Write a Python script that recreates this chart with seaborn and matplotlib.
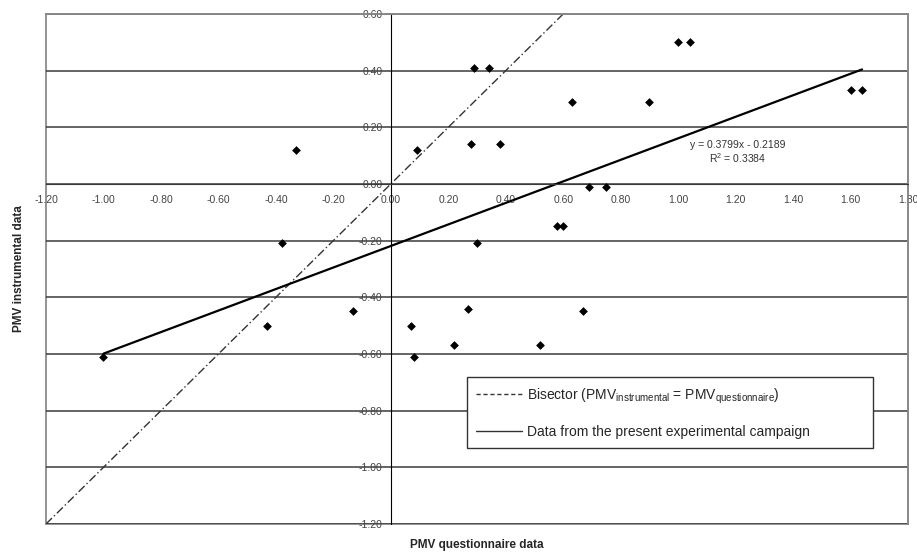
import numpy as np
import pandas as pd
import matplotlib
matplotlib.use('Agg')
import matplotlib.pyplot as plt
from matplotlib.lines import Line2D
import seaborn as sns

# PMV questionnaire (x) vs PMV instrumental (y)
pmv_quest = [-1.00, -0.43, -0.38, -0.33, -0.13, 0.07, 0.08, 0.09, 0.22, 0.27,
             0.28, 0.29, 0.30, 0.34, 0.38, 0.52, 0.58, 0.60, 0.63, 0.67,
             0.69, 0.75, 0.90, 1.00, 1.04, 1.60, 1.64]
pmv_instr = [-0.61, -0.50, -0.21, 0.12, -0.45, -0.50, -0.61, 0.12, -0.57, -0.44,
             0.14, 0.41, -0.21, 0.41, 0.14, -0.57, -0.15, -0.15, 0.29, -0.45,
             -0.01, -0.01, 0.29, 0.50, 0.50, 0.33, 0.33]
slope = 0.3799
intercept = -0.2189
r2 = 0.3384
xticks = np.round(np.arange(-1.2, 1.81, 0.2), 2) + 0.0
yticks = np.round(np.arange(-1.2, 0.61, 0.2), 2) + 0.0

df = pd.DataFrame({'quest': pmv_quest, 'instr': pmv_instr})
fit = pd.DataFrame({'x': [min(pmv_quest), max(pmv_quest)]})
fit['y'] = slope * fit.x + intercept
bis = pd.DataFrame({'x': [yticks[0], yticks[-1]]})
bis['y'] = bis.x

sns.set_style('white')
plt.rcParams['font.family'] = ['Liberation Sans', 'DejaVu Sans']
plt.rcParams['mathtext.default'] = 'regular'

fig = plt.figure(figsize=(9.17, 5.55), dpi=100)
ax = fig.add_axes([0.0502, 0.0559, 0.940, 0.919])

for yv in yticks:
    ax.axhline(yv, color='#3a3a3a', lw=1.1, zorder=0)

sns.lineplot(data=bis, x='x', y='y', ax=ax, color='#333333', lw=1.0,
             linestyle=(0, (6, 2, 1, 2)))
sns.lineplot(data=fit, x='x', y='y', ax=ax, color='black', lw=1.6)
sns.scatterplot(data=df, x='quest', y='instr', ax=ax, marker='D', s=20,
                color='black', edgecolor='black', linewidth=0, zorder=5)

ax.set_xlim(-1.2, 1.8)
ax.set_ylim(-1.2, 0.6)
ax.set_xticks(xticks)
ax.set_yticks(yticks)
ax.set_xticklabels([f'{abs(v):.2f}' if abs(v) < 1e-9 else f'{v:.2f}' for v in xticks])
ax.set_yticklabels([f'{abs(v):.2f}' if abs(v) < 1e-9 else f'{v:.2f}' for v in yticks])

ax.spines['left'].set_position(('data', 0))
ax.spines['bottom'].set_position(('data', 0))
ax.spines['left'].set_color('black')
ax.spines['bottom'].set_color('#3a3a3a')
for s in ['top', 'right']:
    ax.spines[s].set_color('#8a8a8a')
    ax.spines[s].set_linewidth(1.3)
ax.patch.set_edgecolor('#8a8a8a')
ax.patch.set_linewidth(1.3)

ax.tick_params(axis='both', direction='out', length=4, width=0.8,
               color='#555555', labelsize=7.5, labelcolor='#444444', pad=4)
ax.tick_params(axis='y', pad=2)

ax.set_xlabel('PMV questionnaire data', fontsize=8.5, fontweight='bold')
ax.set_ylabel('PMV instrumental data', fontsize=8.5, fontweight='bold')
ax.xaxis.set_label_coords(0.5, -0.03)
ax.yaxis.set_label_coords(-0.024, 0.5)

ax.text(1.207, 0.111, f'y = {slope:.4f}x - {abs(intercept):.4f}\nR$^2$ = {r2:.4f}',
        ha='center', va='center', fontsize=7.5, color='#333333', linespacing=1.1)

handles = [Line2D([], [], color='#333333', lw=1.0, linestyle=(0, (3, 2))),
           Line2D([], [], color='#333333', lw=1.0)]
labels = ['Bisector (PMV$_{instrumental}$ = PMV$_{questionnaire}$)',
          'Data from the present experimental campaign']
leg = ax.legend(handles, labels, loc='lower left',
                bbox_to_anchor=(0.488, 0.149, 0.471, 0.139), mode='expand',
                fontsize=10, frameon=True, fancybox=False, handlelength=3.3,
                handletextpad=0.4, labelspacing=1.4, borderpad=0.65,
                borderaxespad=0)
leg.get_frame().set_edgecolor('#333333')
leg.get_frame().set_linewidth(1.0)
leg.get_frame().set_facecolor('white')
leg.get_frame().set_alpha(1)

fig.savefig('out.png', dpi=100)
